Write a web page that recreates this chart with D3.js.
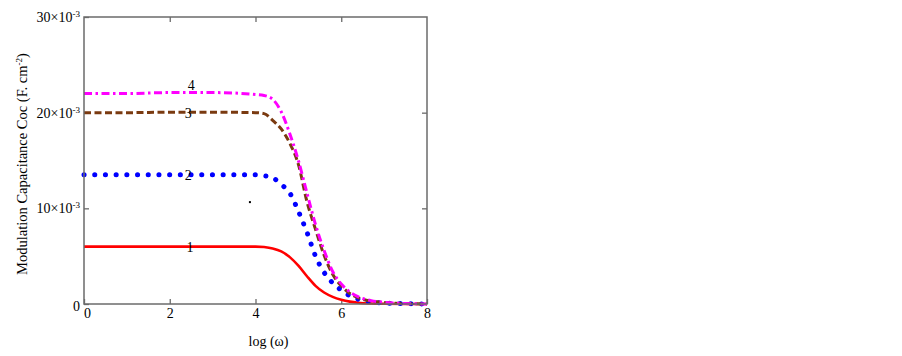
<!DOCTYPE html>
<html>
<head>
<meta charset="utf-8">
<script src="https://cdn.jsdelivr.net/npm/d3@7"></script>
<style>
  body { margin: 0; background: #fff; }
  text { font-family: "Liberation Serif", "Times New Roman", serif; fill: #000; }
</style>
</head>
<body>
<div id="chart"></div>
<script>
const width = 902;
const height = 356;
const margin = { top: 17, right: 475, bottom: 52, left: 84 };

// log(omega) sampling grid
const logW = [0, 1, 2, 3, 4, 4.2, 4.4, 4.6, 4.8, 5.0, 5.2, 5.4, 5.6, 5.8, 6.0, 6.2, 6.4, 6.7, 7, 7.5, 8];

// Coc values in units of 1e-3 F.cm^-2
const curve1 = [6.0, 6.0, 6.0, 6.0, 6.0, 5.95, 5.8, 5.5, 4.9, 4.0, 2.9, 1.9, 1.2, 0.75, 0.45, 0.25, 0.13, 0.05, 0.02, 0, 0];
const curve2 = [13.5, 13.5, 13.5, 13.5, 13.5, 13.4, 13.2, 12.5, 11.6, 9.7, 7.5, 5.0, 3.3, 2.2, 1.45, 0.85, 0.5, 0.22, 0.1, 0.03, 0];
const curve3 = [20.0, 20.0, 20.05, 20.05, 20.0, 19.9, 19.2, 18.3, 16.8, 14.6, 10.7, 7.8, 5.1, 3.1, 1.9, 1.1, 0.65, 0.3, 0.15, 0.04, 0];
const curve4 = [22.0, 22.0, 22.1, 22.1, 21.9, 21.8, 21.4, 20.1, 17.8, 15.0, 11.6, 8.3, 5.6, 3.4, 2.1, 1.25, 0.75, 0.35, 0.18, 0.05, 0];

const curveNames = ["1", "2", "3", "4"];
const labelX = [2.47, 2.43, 2.43, 2.5];
const labelY = [6.0, 13.5, 20.0, 22.9];

const xTicks = [0, 2, 4, 6, 8];
const yTicks = [0, 10, 20, 30];

// small stray dot in the original figure
const strayPoint = [3.87, 10.65];

const innerW = width - margin.left - margin.right;
const innerH = height - margin.top - margin.bottom;

const svg = d3.select("#chart")
  .append("svg")
  .attr("width", width)
  .attr("height", height);

const x = d3.scaleLinear().domain([0, 8]).range([0, innerW]);
const y = d3.scaleLinear().domain([0, 30]).range([innerH, 0]);

const g = svg.append("g")
  .attr("transform", "translate(" + margin.left + "," + margin.top + ")");

const frameColor = "#6b6b6b";

// inward ticks on all four sides
const inner = (sel) => {
  sel.select(".domain").remove();
  sel.selectAll(".tick line").attr("stroke", frameColor).attr("stroke-width", 1.3);
};

g.append("g")
  .attr("transform", "translate(0," + innerH + ")")
  .call(d3.axisBottom(x).tickValues(xTicks).tickSize(-5).tickPadding(6).tickFormat(d3.format("d")))
  .call(inner)
  .call(s => s.selectAll("text").attr("font-size", 14).attr("dy", "0.6em").attr("dx", (d) => d === 0 ? 3 : 0));

g.append("g")
  .call(d3.axisTop(x).tickValues([2, 4, 6]).tickSize(-5).tickFormat(""))
  .call(inner);

g.append("g")
  .call(d3.axisLeft(y).tickValues(yTicks).tickSize(-5).tickPadding(4).tickFormat(""))
  .call(inner);

g.append("g")
  .attr("transform", "translate(" + innerW + ",0)")
  .call(d3.axisRight(y).tickValues([10, 20]).tickSize(-5).tickFormat(""))
  .call(inner);

// y tick labels with superscript exponent
yTicks.forEach((v) => {
  const t = g.append("text")
    .attr("x", -4)
    .attr("y", y(v) + (v === 0 ? 7 : 5))
    .attr("text-anchor", "end")
    .attr("font-size", 14);
  if (v === 0) {
    t.text("0");
  } else {
    t.append("tspan").text(v + "×10");
    t.append("tspan").attr("font-size", 9).attr("dy", -5).text("-3");
  }
});

// curves
const series = [curve1, curve2, curve3, curve4];
const styles = [
  { color: "#ff0000", width: 2.6, dash: null, cap: "butt" },
  { color: "#0000ff", width: 5, dash: "0.1 10.6", cap: "round" },
  { color: "#7a3a10", width: 3, dash: "7 3.5", cap: "butt" },
  { color: "#ff00ff", width: 3, dash: "8 3.5 2.5 3.5", cap: "butt" }
];

const line = d3.line()
  .x((d, i) => x(logW[i]))
  .y((d) => y(d))
  .curve(d3.curveMonotoneX);

g.selectAll(".curve")
  .data(series)
  .enter()
  .append("path")
  .attr("class", "curve")
  .attr("fill", "none")
  .attr("stroke", (d, i) => styles[i].color)
  .attr("stroke-width", (d, i) => styles[i].width)
  .attr("stroke-dasharray", (d, i) => styles[i].dash)
  .attr("stroke-linecap", (d, i) => styles[i].cap)
  .attr("d", line);

// curve labels
g.selectAll(".clabel")
  .data(curveNames)
  .enter()
  .append("text")
  .attr("class", "clabel")
  .attr("x", (d, i) => x(labelX[i]))
  .attr("y", (d, i) => y(labelY[i]))
  .attr("dy", "0.35em")
  .attr("text-anchor", "middle")
  .attr("font-size", 14)
  .text((d) => d);

g.append("rect")
  .attr("x", x(strayPoint[0]) - 1)
  .attr("y", y(strayPoint[1]) - 1)
  .attr("width", 2)
  .attr("height", 2)
  .attr("fill", "#000");

// frame
g.append("rect")
  .attr("width", innerW)
  .attr("height", innerH)
  .attr("fill", "none")
  .attr("stroke", frameColor)
  .attr("stroke-width", 1.5);

// axis titles
svg.append("text")
  .attr("x", margin.left + innerW / 2 + 13)
  .attr("y", 341)
  .attr("dy", "0.35em")
  .attr("text-anchor", "middle")
  .attr("font-size", 14)
  .text("log (ω)");

const yt = svg.append("text")
  .attr("transform", "translate(22,164) rotate(-90)")
  .attr("dy", "0.35em")
  .attr("text-anchor", "middle")
  .attr("font-size", 14.5);
yt.append("tspan").text("Modulation Capacitance Coc (F. cm");
yt.append("tspan").attr("font-size", 9).attr("dy", -5).text("-2");
yt.append("tspan").attr("dy", 5).text(")");
</script>
</body>
</html>
